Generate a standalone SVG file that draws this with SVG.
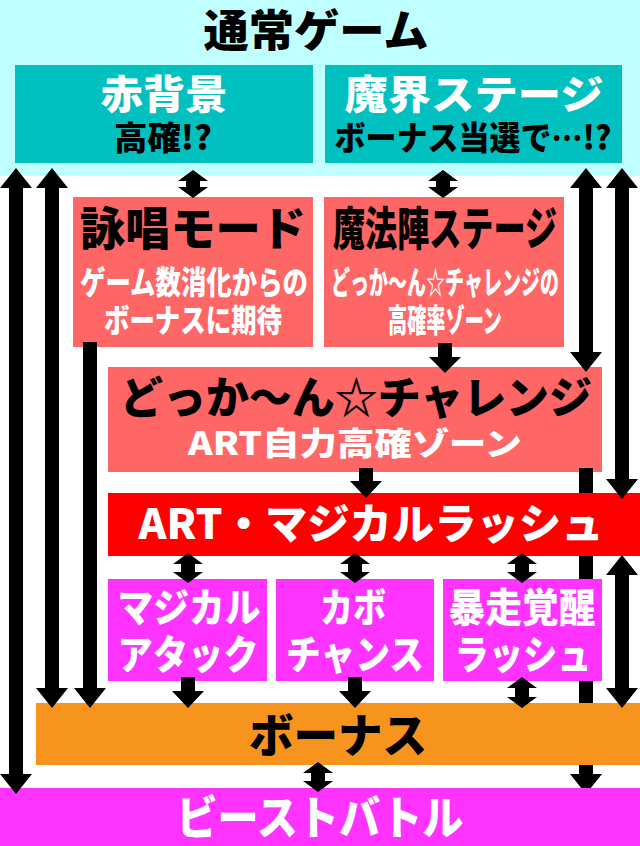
<svg xmlns="http://www.w3.org/2000/svg" width="640" height="846" viewBox="0 0 640 846">
<style>
text{font-family:"Noto Sans CJK JP","Noto Sans CJK SC",sans-serif;font-weight:900;text-anchor:middle}
.w{fill:#ffffff}
.k{fill:#000000}
.arr{fill:#000000}
</style>
<rect x="0" y="0" width="640" height="846" fill="#ffffff"/>
<g id="normal">
<rect x="0" y="0" width="640" height="176" fill="#c0ffff"/>
<text class="k" x="316" y="47" font-size="44" textLength="225" lengthAdjust="spacingAndGlyphs">通常ゲーム</text>
</g>
<g id="akahaikei">
<rect x="15" y="65" width="298" height="98" fill="#00c0c0"/>
<text class="w" x="164" y="109" font-size="40" textLength="127" lengthAdjust="spacingAndGlyphs">赤背景</text>
<text class="k" x="163" y="150" font-size="33" textLength="98" lengthAdjust="spacingAndGlyphs">高確!?</text>
</g>
<g id="makai">
<rect x="325" y="65" width="297" height="98" fill="#00c0c0"/>
<text class="w" x="474" y="109" font-size="40" textLength="259" lengthAdjust="spacingAndGlyphs">魔界ステージ</text>
<text class="k" x="473" y="150" font-size="33" textLength="277" lengthAdjust="spacingAndGlyphs">ボーナス当選で…!?</text>
</g>
<g id="eishou">
<rect x="73" y="197" width="240" height="150" fill="#ff6666"/>
<text class="k" x="193" y="245" font-size="46" textLength="226" lengthAdjust="spacingAndGlyphs">詠唱モード</text>
<text class="w" x="194" y="294" font-size="32" textLength="228" lengthAdjust="spacingAndGlyphs">ゲーム数消化からの</text>
<text class="w" x="193" y="332" font-size="32" textLength="178" lengthAdjust="spacingAndGlyphs">ボーナスに期待</text>
</g>
<g id="mahoujin">
<rect x="324" y="197" width="240" height="150" fill="#ff6666"/>
<text class="k" x="445" y="245" font-size="46" textLength="224" lengthAdjust="spacingAndGlyphs">魔法陣ステージ</text>
<text class="w" x="445" y="294" font-size="32" textLength="228" lengthAdjust="spacingAndGlyphs">どっか〜ん☆チャレンジの</text>
<text class="w" x="445" y="332" font-size="32" textLength="114" lengthAdjust="spacingAndGlyphs">高確率ゾーン</text>
</g>
<g id="dokkaan">
<rect x="108" y="367" width="494" height="105" fill="#ff6666"/>
<text class="k" x="356" y="414" font-size="44" textLength="472" lengthAdjust="spacingAndGlyphs">どっか〜ん☆チャレンジ</text>
<text class="w" x="355" y="455" font-size="32" textLength="334" lengthAdjust="spacingAndGlyphs">ART自力高確ゾーン</text>
</g>
<g id="connectors-back">
<polygon class="arr" points="579,468 593,468 593,774 602,774 586,794 570,774 579,774"/>
</g>
<g id="art">
<rect x="108" y="493" width="532" height="63" fill="#ff0000"/>
<text class="w" x="371" y="539" font-size="42" textLength="465" lengthAdjust="spacingAndGlyphs">ART・マジカルラッシュ</text>
</g>
<g id="magical-attack">
<rect x="108" y="579" width="159" height="102" fill="#ff33ff"/>
<text class="w" x="189" y="622" font-size="40" textLength="143" lengthAdjust="spacingAndGlyphs">マジカル</text>
<text class="w" x="188" y="669" font-size="40" textLength="141" lengthAdjust="spacingAndGlyphs">アタック</text>
</g>
<g id="kabo-chance">
<rect x="276" y="579" width="158" height="102" fill="#ff33ff"/>
<text class="w" x="353" y="622" font-size="40" textLength="66" lengthAdjust="spacingAndGlyphs">カボ</text>
<text class="w" x="355" y="669" font-size="40" textLength="138" lengthAdjust="spacingAndGlyphs">チャンス</text>
</g>
<g id="bousou">
<rect x="443" y="579" width="159" height="102" fill="#ff33ff"/>
<text class="w" x="522" y="622" font-size="40" textLength="147" lengthAdjust="spacingAndGlyphs">暴走覚醒</text>
<text class="w" x="523" y="669" font-size="40" textLength="137" lengthAdjust="spacingAndGlyphs">ラッシュ</text>
</g>
<g id="bonus">
<rect x="36" y="703" width="604" height="62" fill="#f7941d"/>
<text class="k" x="338" y="752" font-size="46" textLength="178" lengthAdjust="spacingAndGlyphs">ボーナス</text>
</g>
<g id="beast">
<rect x="0" y="788" width="640" height="58" fill="#ff33ff"/>
<text class="w" x="320" y="834" font-size="46" textLength="287" lengthAdjust="spacingAndGlyphs">ビーストバトル</text>
</g>
<g id="connectors">
<polygon class="arr" points="16,168 32,188 23,188 23,774 32,774 16,794 0,774 9,774 9,188 0,188"/>
<polygon class="arr" points="52,168 68,188 59,188 59,688 68,688 52,708 36,688 45,688 45,188 36,188"/>
<polygon class="arr" points="83,342 97,342 97,688 106,688 90,708 74,688 83,688"/>
<polygon class="arr" points="586,168 602,188 593,188 593,352 602,352 586,372 570,352 579,352 579,188 570,188"/>
<polygon class="arr" points="622,168 638,188 629,188 629,479 638,479 622,499 606,479 615,479 615,188 606,188"/>
<polygon class="arr" points="622,555 638,575 629,575 629,688 638,688 622,708 606,688 615,688 615,575 606,575"/>
<polygon class="arr" points="193,170 208,181 200,181 200,187 208,187 193,198 178,187 186,187 186,181 178,181"/>
<polygon class="arr" points="443,170 458,181 450,181 450,187 458,187 443,198 428,187 436,187 436,181 428,181"/>
<polygon class="arr" points="438,343 452,343 452,357 461,357 445,373 429,357 438,357"/>
<polygon class="arr" points="359,468 373,468 373,481 382,481 366,498 350,481 359,481"/>
<polygon class="arr" points="188,553 203,564 195,564 195,572 203,572 188,583 173,572 181,572 181,564 173,564"/>
<polygon class="arr" points="355,553 370,564 362,564 362,572 370,572 355,583 340,572 348,572 348,564 340,564"/>
<polygon class="arr" points="522,553 537,564 529,564 529,572 537,572 522,583 507,572 515,572 515,564 507,564"/>
<polygon class="arr" points="181,677 195,677 195,691 204,691 188,708 172,691 181,691"/>
<polygon class="arr" points="348,677 362,677 362,691 371,691 355,708 339,691 348,691"/>
<polygon class="arr" points="522,677 537,688 529,688 529,697 537,697 522,708 507,697 515,697 515,688 507,688"/>
<polygon class="arr" points="318,762 333,773 325,773 325,781 333,781 318,792 303,781 311,781 311,773 303,773"/>
</g>
</svg>
